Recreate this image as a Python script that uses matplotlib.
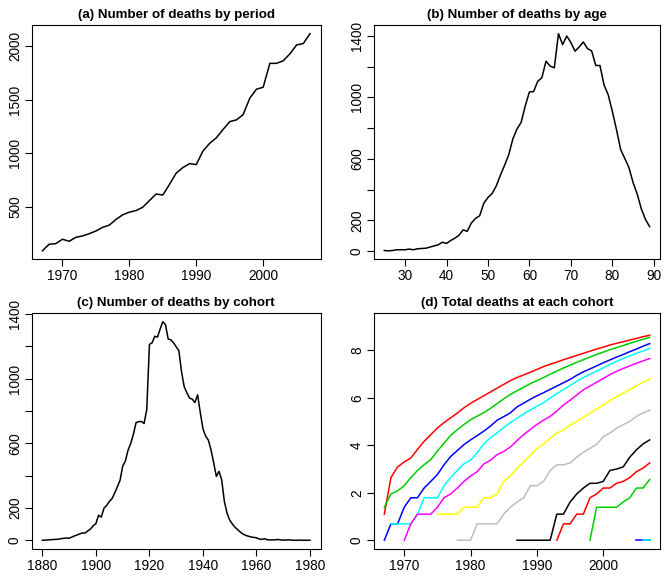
import numpy as np
import matplotlib
matplotlib.use("Agg")
import matplotlib.pyplot as plt

plt.rcParams['font.family'] = ['Liberation Sans', 'DejaVu Sans']

# (a) deaths by period
period = list(range(1967, 2008))
deaths_period = [90, 151, 157, 198, 179, 216, 229, 250, 275, 309,
                 330, 383, 426, 451, 466, 497, 559, 620, 611, 710,
                 815, 867, 904, 895, 1022, 1093, 1145, 1222, 1296, 1312,
                 1361, 1515, 1599, 1617, 1840, 1840, 1864, 1929, 2012, 2025,
                 2117]

# (b) deaths by age
age = list(range(25, 90))
deaths_age = [4, 2, 4, 9, 9, 9, 13, 9, 15, 17,
              19, 26, 34, 41, 58, 50, 69, 84, 103, 138,
              129, 183, 213, 230, 312, 349, 375, 424, 495, 558,
              627, 730, 795, 838, 946, 1036, 1038, 1105, 1129, 1236,
              1204, 1193, 1415, 1344, 1400, 1357, 1301, 1329, 1361, 1318,
              1303, 1208, 1208, 1081, 1017, 909, 790, 661, 603, 543,
              446, 370, 274, 205, 159]

# (c) deaths by cohort
cohort = list(range(1880, 1981))
deaths_cohort = [0, 1, 2, 3, 5, 5, 7, 10, 12, 14,
                 12, 20, 27, 33, 40, 45, 45, 58, 70, 90,
                 103, 155, 143, 198, 215, 240, 257, 292, 330, 370,
                 458, 490, 557, 598, 656, 728, 734, 735, 722, 810,
                 1212, 1222, 1262, 1257, 1307, 1352, 1334, 1245, 1240, 1222,
                 1197, 1173, 1042, 949, 912, 879, 873, 852, 900, 790,
                 690, 645, 620, 560, 480, 395, 426, 374, 240, 168,
                 125, 100, 80, 65, 50, 38, 30, 25, 20, 18,
                 15, 8, 5, 10, 3, 2, 2, 3, 5, 2,
                 1, 1, 3, 1, 0, 0, 1, 0, 0, 0, 0]

# (d) log total deaths, one series per cohort group
d_start = [1967, 1967, 1967, 1968, 1970, 1975, 1978, 1987, 1993, 1998, 2005, 2006]
d_colors = ['#FF0000', '#00CD00', '#0000FF', '#00FFFF', '#FF00FF', '#FFFF00',
            '#BEBEBE', '#000000', '#FF0000', '#00CD00', '#0000FF', '#00FFFF']
d_red1 = [1.10, 2.64, 3.09, 3.30, 3.47, 3.83, 4.17, 4.45, 4.73, 4.96,
          5.16, 5.36, 5.58, 5.77, 5.93, 6.09, 6.25, 6.41, 6.57, 6.73,
          6.86, 6.97, 7.08, 7.20, 7.32, 7.42, 7.51, 7.61, 7.70, 7.79,
          7.88, 7.97, 8.06, 8.14, 8.23, 8.30, 8.37, 8.44, 8.51, 8.58, 8.64]
d_green1 = [1.39, 1.95, 2.08, 2.30, 2.64, 2.94, 3.18, 3.40, 3.76, 4.09,
            4.42, 4.66, 4.88, 5.08, 5.23, 5.38, 5.56, 5.76, 5.96, 6.15,
            6.30, 6.45, 6.60, 6.73, 6.86, 7.00, 7.13, 7.26, 7.38, 7.50,
            7.61, 7.72, 7.83, 7.93, 8.03, 8.12, 8.21, 8.30, 8.39, 8.47, 8.55]
d_blue1 = [0, 0.69, 0.69, 1.39, 1.79, 1.79, 2.20, 2.48, 2.77, 3.18,
           3.53, 3.78, 4.03, 4.23, 4.41, 4.60, 4.81, 5.06, 5.21, 5.37,
           5.62, 5.78, 5.94, 6.09, 6.22, 6.36, 6.50, 6.64, 6.78, 6.95,
           7.10, 7.22, 7.35, 7.48, 7.60, 7.72, 7.83, 7.95, 8.06, 8.18, 8.29]
d_cyan1 = [0.69, 0.69, 0.69, 0.69, 1.10, 1.79, 1.79, 1.79, 2.30, 2.64,
           2.94, 3.22, 3.37, 3.69, 4.06, 4.32, 4.53, 4.75, 4.96, 5.14,
           5.33, 5.49, 5.65, 5.80, 6.00, 6.18, 6.35, 6.52, 6.70, 6.86,
           7.00, 7.13, 7.27, 7.41, 7.54, 7.66, 7.77, 7.88, 7.98, 8.08]
d_magenta1 = [0, 0.69, 1.10, 1.10, 1.10, 1.39, 1.79, 1.95, 2.20, 2.48,
              2.71, 2.89, 3.22, 3.37, 3.61, 3.74, 3.93, 4.20, 4.45, 4.67,
              4.88, 5.06, 5.22, 5.45, 5.70, 5.90, 6.12, 6.34, 6.50, 6.66,
              6.82, 6.98, 7.12, 7.24, 7.35, 7.46, 7.56, 7.66]
d_yellow1 = [1.10, 1.10, 1.10, 1.10, 1.39, 1.39, 1.39, 1.79, 1.79, 1.95,
             2.48, 2.71, 3.04, 3.30, 3.58, 3.87, 4.05, 4.30, 4.52, 4.64,
             4.85, 5.00, 5.18, 5.36, 5.53, 5.70, 5.89, 6.05, 6.20, 6.35,
             6.51, 6.66, 6.79]
d_gray1 = [0, 0, 0, 0.69, 0.69, 0.69, 0.69, 1.10, 1.39, 1.61,
           1.79, 2.30, 2.30, 2.48, 2.94, 3.18, 3.18, 3.26, 3.50, 3.71,
           3.87, 4.04, 4.36, 4.52, 4.72, 4.87, 5.01, 5.22, 5.37, 5.48]
d_black = [0, 0, 0, 0, 0, 0, 1.10, 1.10, 1.61, 1.95,
           2.20, 2.40, 2.40, 2.48, 2.94, 3.00, 3.09, 3.50, 3.81, 4.06, 4.23]
d_red2 = [0, 0.69, 0.69, 1.10, 1.10, 1.79, 1.95, 2.20, 2.20, 2.40,
          2.48, 2.64, 2.89, 3.04, 3.26]
d_green2 = [0, 1.39, 1.39, 1.39, 1.39, 1.61, 1.79, 2.20, 2.20, 2.56]
d_blue2 = [0, 0, 0]
d_cyan2 = [0, 0]
d_series = [d_red1, d_green1, d_blue1, d_cyan1, d_magenta1, d_yellow1,
            d_gray1, d_black, d_red2, d_green2, d_blue2, d_cyan2]

fig = plt.figure(figsize=(6.64, 5.76), dpi=100)
W, H = 664.0, 576.0

def make_ax(l, t, r, b):
    return fig.add_axes([l / W, 1 - b / H, (r - l) / W, (b - t) / H])

axa = make_ax(31.7, 25, 320.7, 259.5)
axb = make_ax(373.7, 25, 660.3, 259.5)
axc = make_ax(31.7, 313, 320.7, 549)
axd = make_ax(373.7, 313, 660.3, 549)

axa.plot(period, deaths_period, color='black', lw=1.1)
axa.set_xticks([1970, 1980, 1990, 2000])
axa.set_yticks([500, 1000, 1500, 2000])
axa.set_title('(a) Number of deaths by period')

axb.plot(age, deaths_age, color='black', lw=1.1)
axb.set_xticks([30, 40, 50, 60, 70, 80, 90])
axb.set_yticks(range(0, 1401, 200))
axb.set_yticklabels(['0', '200', '', '600', '', '1000', '', '1400'])
axb.set_title('(b) Number of deaths by age')

axc.plot(cohort, deaths_cohort, color='black', lw=1.1)
axc.set_xticks(range(1880, 1981, 20))
axc.set_yticks(range(0, 1401, 200))
axc.set_yticklabels(['0', '200', '', '600', '', '1000', '', '1400'])
axc.set_title('(c) Number of deaths by cohort')

for s, start, col in zip(d_series, d_start, d_colors):
    axd.plot(range(start, start + len(s)), s, color=col, lw=1.1)
axd.set_xlim(1965.4, 2008.6)
axd.set_ylim(-0.37, 9.58)
axd.set_xticks([1970, 1980, 1990, 2000])
axd.set_yticks([0, 2, 4, 6, 8])
axd.set_title('(d) Total deaths at each cohort')

for ax in (axa, axb, axc):
    ax.margins(0.04)

for ax in (axa, axb, axc, axd):
    ax.set_title(ax.get_title(), fontsize=9.6, fontweight='bold', pad=5)
    ax.tick_params(direction='out', length=5, width=0.8, labelsize=9.8, pad=2,
                   colors='black')
    for lab in ax.get_yticklabels():
        lab.set_rotation(90)
        lab.set_va('center')
        lab.set_ha('right')
    for sp in ax.spines.values():
        sp.set_linewidth(0.8)

fig.savefig('out.png', dpi=100)
